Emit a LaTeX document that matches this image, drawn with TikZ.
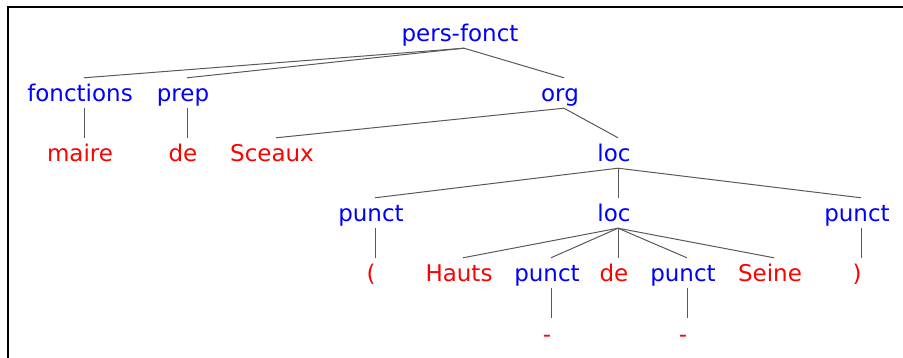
\documentclass[tikz,border=0pt]{standalone}
\usepackage{fontspec}
\setmainfont{DejaVu Sans}

\begin{document}
\begin{tikzpicture}[
  x=1pt, y=-1pt,
  cat/.style={text=blue, font=\fontsize{23}{28}\selectfont, anchor=base, text height=18pt, text depth=0pt, inner ysep=6pt, inner xsep=0pt},
  word/.style={cat, text=red},
  edge/.style={draw=black!65, line width=1pt}
]
\useasboundingbox (0,0) rectangle (903,358);
\draw[line width=2pt] (7.6,358) -- (7.6,6.8) -- (903,6.8);

% row 1
\node[cat] (pf) at (460,42) {pers-fonct};
% row 2
\node[cat] (fonc) at (80,102) {fonctions};
\node[cat] (prep) at (183,102) {prep};
\node[cat] (org) at (560,102) {org};
% row 3
\node[word] (maire) at (80,162) {maire};
\node[word] (de1) at (183,162) {de};
\node[word] (sceaux) at (272,162) {Sceaux};
\node[cat] (loc1) at (614,162) {loc};
% row 4
\node[cat] (punctL) at (371,222) {punct};
\node[cat] (loc2) at (614,222) {loc};
\node[cat] (punctR) at (857,222) {punct};
% row 5
\node[word] (lpar) at (371,282) {(};
\node[word] (hauts) at (459,282) {Hauts};
\node[cat] (punctA) at (547,282) {punct};
\node[word] (de2) at (614,282) {de};
\node[cat] (punctB) at (683,282) {punct};
\node[word] (seine) at (770,282) {Seine};
\node[word] (rpar) at (857,282) {)};
% row 6
\node[word] (dashA) at (547,342) {-};
\node[word] (dashB) at (683,342) {-};

\foreach \a/\b in {pf/fonc, pf/prep, pf/org, fonc/maire, prep/de1,
    org/sceaux, org/loc1, loc1/punctL, loc1/loc2, loc1/punctR,
    punctL/lpar, punctR/rpar, loc2/hauts, loc2/punctA, loc2/de2,
    loc2/punctB, loc2/seine, punctA/dashA, punctB/dashB}
  \draw[edge] ([xshift=4pt]\a.south) -- ([xshift=4pt]\b.north);

\end{tikzpicture}
\end{document}
